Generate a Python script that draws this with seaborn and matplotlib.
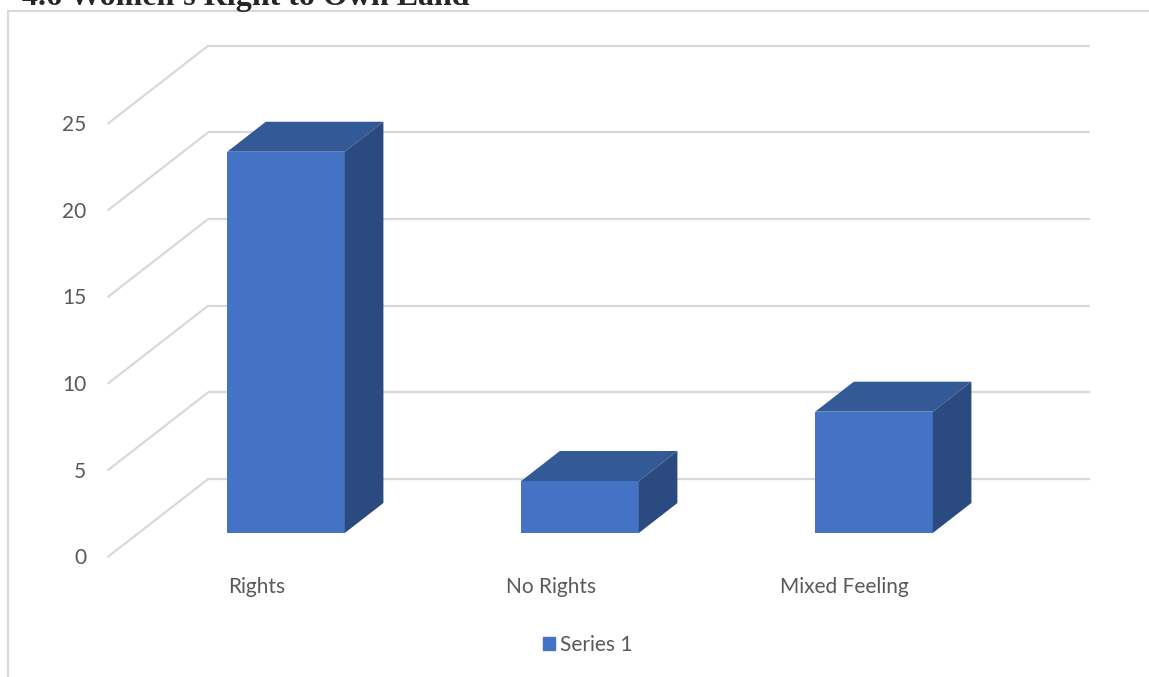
import pandas as pd
import seaborn as sns
import matplotlib.pyplot as plt
from matplotlib.patches import Polygon, Rectangle

# data
categories = ['Rights', 'No Rights', 'Mixed Feeling']
values = [22, 3, 7]
y_ticks = [0, 5, 10, 15, 20, 25]
series_name = 'Series 1'
title = "4.6 Women's Right to Own Land"

df = pd.DataFrame({'Category': categories, 'Count': values})

sns.set_style('white')
plt.rcParams['font.family'] = ['Lato', 'DejaVu Sans']

W, H = 1149, 677
fig = plt.figure(figsize=(W / 100, H / 100), dpi=100)
ax = fig.add_axes([0, 0, 1, 1])

blue = '#4472C4'
top_col = '#335A96'
side_col = '#2B4B80'
grid_col = '#D9D9D9'
txt_col = '#595959'

sns.barplot(data=df, x='Category', y='Count', color=blue, width=0.4,
            saturation=1, ax=ax, zorder=3, linewidth=0)

# scale: px per category / px per unit, origin of bar plane
px_x, px_y = 294.0, 17.33
x0_px, y0_px = 286, 533
ax.set_xlim(-x0_px / px_x, (W - x0_px) / px_x)
ax.set_ylim((y0_px - H) / px_y, y0_px / px_y)
ax.axis('off')

# oblique depth of the floor (full), and bar position within it
depth_x, depth_y = 100 / px_x, 77.7 / px_y
front = 0.305     # bar front plane from floor front
bar_d = 30 / 77.7 # bar depth fraction
left_front = -0.605
right_back = 2.735

fdx, fdy = -front * depth_x, -front * depth_y
bdx, bdy = (1 - front) * depth_x, (1 - front) * depth_y

# gridlines on back and left wall
for v in y_ticks:
    ax.plot([left_front + depth_x, right_back], [v + bdy, v + bdy],
            color=grid_col, lw=1.6, zorder=1, solid_capstyle='butt')
    ax.plot([left_front, left_front + depth_x], [v + fdy, v + bdy],
            color=grid_col, lw=1.6, zorder=1)
    ax.text(left_front - 0.075, v + fdy - 0.1, str(v), ha='right',
            va='center', fontsize=15, color=txt_col)

# 3D faces of bars
ddx, ddy = bar_d * depth_x, bar_d * depth_y
for p in ax.patches[:len(values)]:
    x, w, h = p.get_x(), p.get_width(), p.get_height()
    ax.add_patch(Polygon([(x, h), (x + w, h), (x + w + ddx, h + ddy),
                          (x + ddx, h + ddy)], closed=True,
                         fc=top_col, ec='none', zorder=3))
    ax.add_patch(Polygon([(x + w, 0), (x + w + ddx, ddy),
                          (x + w + ddx, h + ddy), (x + w, h)], closed=True,
                         fc=side_col, ec='none', zorder=3))

# category labels on front floor edge
for i, c in enumerate(categories):
    ax.text(i - 0.1, -3.1, c, ha='center', va='center',
            fontsize=15, color=txt_col)

# legend
handle = Rectangle((0, 0), 1, 1, color=blue)
fig.legend([handle], [series_name], loc='center',
           bbox_to_anchor=(588 / W, 1 - 645 / H), frameon=False,
           fontsize=15, handlelength=0.58, handleheight=0.58,
           handletextpad=0.25, labelcolor=txt_col)

# chart frame
fig.add_artist(Rectangle((8 / W, -0.1), 1.2, (H - 11) / H + 0.1,
                         transform=fig.transFigure, fill=False,
                         ec=grid_col, lw=1.5))

# title, cut off by the top edge as in the source
fig.text(22 / W, 1 - 5 / H, title, family=['Liberation Serif'],
         fontweight='bold', fontsize=23, va='baseline', ha='left')

fig.savefig('out.png', dpi=100)
